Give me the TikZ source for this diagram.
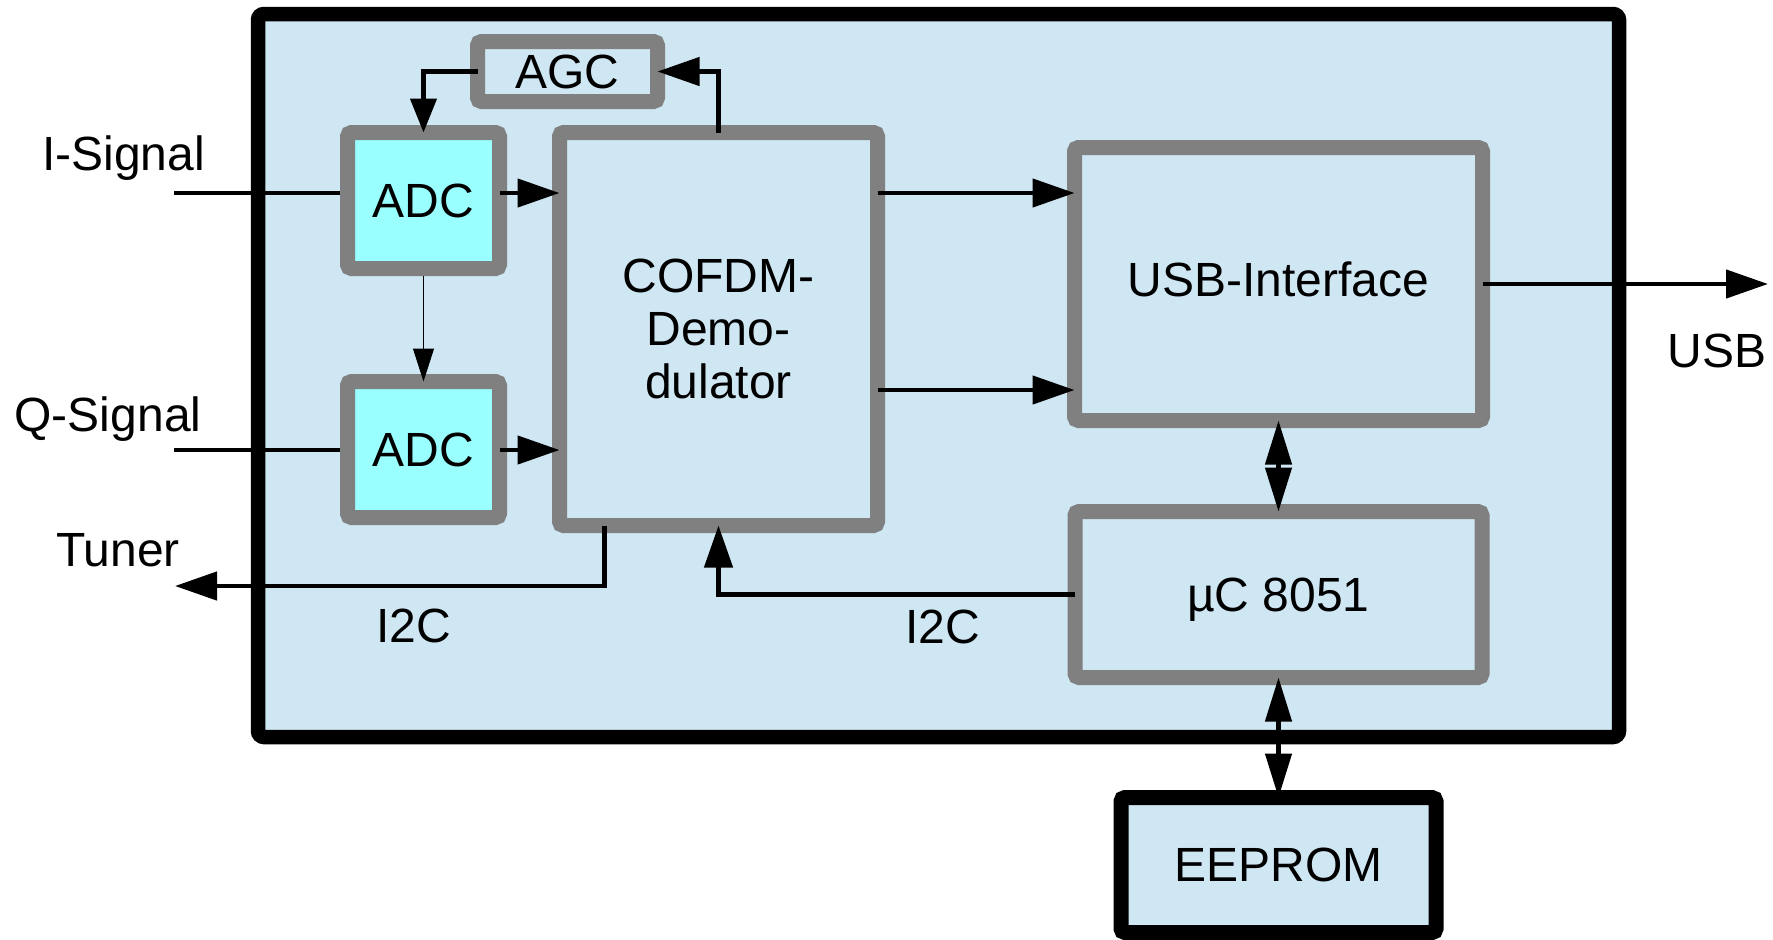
\documentclass[tikz,border=0pt]{standalone}
\usepackage{fontspec}
\setmainfont{Liberation Sans}
\usetikzlibrary{arrows.meta, calc}
\definecolor{boardblue}{RGB}{207,230,243}
\definecolor{adccyan}{RGB}{153,255,255}
\definecolor{framegray}{RGB}{128,128,128}

\begin{document}
\begin{tikzpicture}[x=0.5pt,y=-0.5pt,line cap=butt,
  font=\fontsize{24}{26.5}\selectfont,
  board/.style={draw=black,line width=7.25pt,fill=boardblue,rounded corners=3pt,
    outer sep=0pt,minimum width=680.5pt,minimum height=361.5pt},
  block/.style={draw=framegray,line width=7.5pt,fill=boardblue,rounded corners=2pt,
    outer sep=0pt,inner sep=0pt,align=center},
  adcblock/.style={block,fill=adccyan,minimum width=76pt,minimum height=68pt},
  wire/.style={line width=2.25pt},
  sig/.style={wire,-{Triangle[length=21pt,width=14pt]}},
  duplex/.style={wire,{Triangle[length=22pt,width=13pt]}-{Triangle[length=22pt,width=13pt]}}]
\path[use as bounding box] (0,0) rectangle (1773,939);

\node[board] (board) at (938.5,375.5) {};

\node[block,minimum width=90pt,minimum height=30pt] (agc) at (567.5,71.5) {AGC};
\node[adcblock] (adcI) at (423.5,200.5) {ADC};
\node[adcblock] (adcQ) at (423.5,449.5) {ADC};
\node[block,minimum width=159pt,minimum height=196.5pt] (cofdm) at (718.5,329)
  {COFDM-\\Demo-\\dulator};
\node[block,minimum width=204pt,minimum height=136.5pt] (usb) at (1278.5,284)
  {\raisebox{5pt}{USB-Interface}};
\node[block,minimum width=203.5pt,minimum height=83pt,text depth=0pt] (uc) at (1278.5,594.5)
  {µC 8051};
\node[block,draw=black,minimum width=157.5pt,minimum height=67.5pt] (eeprom) at (1278.5,865)
  {EEPROM};

\coordinate (iIn) at (174,193);
\coordinate (qIn) at (174,450);
\coordinate (dataB) at (878,390);
\coordinate (usbOut) at (1768,284);
\coordinate (tuner) at (175,586);

\draw[wire,shorten >=3.75pt] (iIn) -- (iIn -| adcI.west);
\draw[wire,shorten >=3.75pt] (qIn) -- (qIn -| adcQ.west);
\draw[sig] (adcI.east |- iIn) -- (cofdm.west |- iIn);
\draw[sig] (adcQ.east |- qIn) -- (cofdm.west |- qIn);
\draw[line width=0.5pt,shorten <=3.75pt,-{Triangle[length=16.5pt,width=10.5pt]}]
  (adcI.south) -- (adcQ.north);
\draw[wire,-{Triangle[length=17pt,width=13pt]}] (agc.west) -| (adcI.north);
\draw[sig] (cofdm.north) |- (agc.east);
\draw[sig] (cofdm.east |- iIn) -- (usb.west |- iIn);
\draw[sig] (cofdm.east |- dataB) -- (usb.west |- dataB);
\draw[sig] (usb.east) -- (usbOut);
\draw[duplex] (usb.south) -- (uc.north);
\draw[duplex] (uc.south) -- (eeprom.north);
\draw[sig] ([xshift=-57pt]cofdm.south) |- (tuner);
\draw[sig] (uc.west) -| (cofdm.south);

\node[anchor=base] (iLabel) at (123.5,170) {I-Signal};
\node[anchor=base] (qLabel) at (108,431) {Q-Signal};
\node[anchor=base] (tunerLabel) at (118,566) {Tuner};
\node[anchor=base] (i2cTuner) at (413.5,642) {I2C};
\node[anchor=base] (i2cCtrl) at (942.5,643) {I2C};
\node[anchor=base] (usbLabel) at (1717,367) {USB};
\end{tikzpicture}
\end{document}
